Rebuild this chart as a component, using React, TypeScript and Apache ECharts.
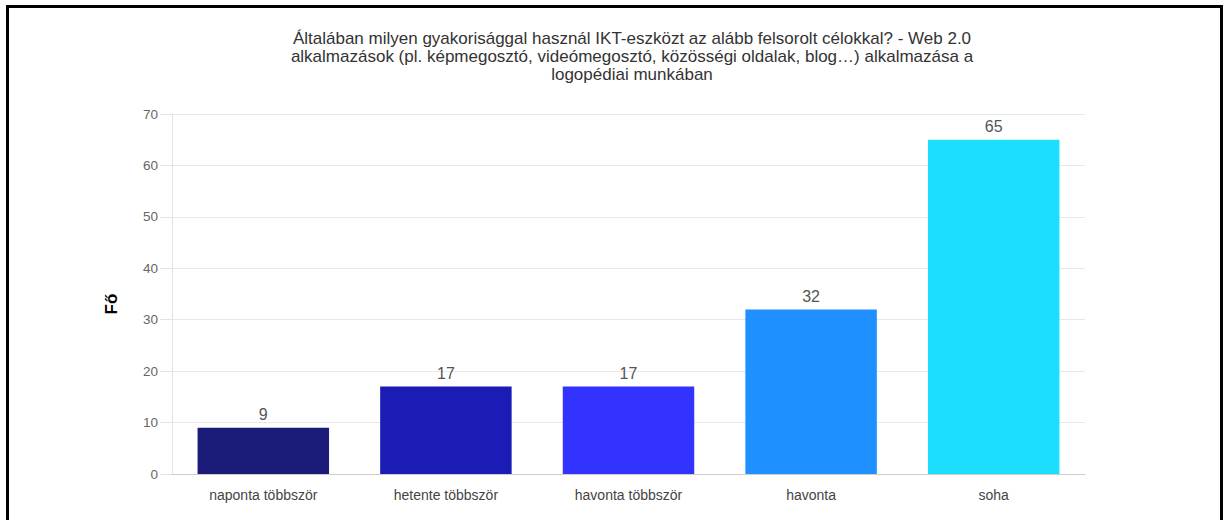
import React, { useEffect, useRef } from "react";
import * as echarts from "echarts";

const titleLines = [
  "Általában milyen gyakorisággal használ IKT-eszközt az alább felsorolt célokkal? - Web 2.0",
  "alkalmazások (pl. képmegosztó, videómegosztó, közösségi oldalak, blog…) alkalmazása a",
  "logopédiai munkában",
];
const categories = ["naponta többször", "hetente többször", "havonta többször", "havonta", "soha"];
const values = [9, 17, 17, 32, 65];
const barColors = ["#1b1b7a", "#1b1bb6", "#3333ff", "#1e90ff", "#1cdfff"];
const yAxisName = "Fő";
const yMax = 70;
const yInterval = 10;

const FONT = "'Liberation Sans', Arial, sans-serif";

export default function App() {
  const ref = useRef<HTMLDivElement>(null);
  useEffect(() => {
    if (!ref.current) return;
    const chart = echarts.init(ref.current, null, { renderer: "svg" });
    chart.setOption({
      animation: false,
      backgroundColor: "transparent",
      title: {
        text: titleLines.join("\n"),
        left: 627,
        textAlign: "center",
        top: 24,
        textStyle: {
          fontFamily: FONT,
          fontSize: 17,
          fontWeight: "normal",
          color: "#333",
          lineHeight: 18,
        },
      },
      grid: { left: 172, right: 141, top: 114, bottom: 46, containLabel: false },
      xAxis: {
        type: "category",
        data: categories,
        axisLine: { show: true, lineStyle: { color: "#cccccc", width: 1 } },
        axisTick: { show: false },
        axisLabel: {
          margin: 14,
          fontFamily: FONT,
          fontSize: 14,
          color: "#444",
        },
        splitLine: { show: false },
      },
      yAxis: {
        type: "value",
        min: 0,
        max: yMax,
        interval: yInterval,
        name: yAxisName,
        nameLocation: "middle",
        nameGap: 52,
        nameTextStyle: {
          fontFamily: FONT,
          fontSize: 17,
          fontWeight: "bold",
          color: "#000",
          padding: [0, 20, 0, 0],
        },
        axisLine: { show: true, lineStyle: { color: "#e2e2e2", width: 1 } },
        axisTick: { show: true, length: 12, lineStyle: { color: "#e2e2e2" } },
        axisLabel: {
          margin: 14,
          fontFamily: FONT,
          fontSize: 13.5,
          color: "#666",
        },
        splitLine: { show: true, lineStyle: { color: "#e8e8e8", width: 1 } },
      },
      series: [
        {
          type: "bar",
          data: values.map((v, i) => ({ value: v, itemStyle: { color: barColors[i] } })),
          barWidth: "72%",
          label: {
            show: true,
            position: "top",
            distance: 5,
            fontFamily: FONT,
            fontSize: 16,
            color: "#555",
          },
        },
      ],
    });
    return () => chart.dispose();
  }, []);
  return (
    <div style={{ position: "absolute", left: 0, top: 0, width: 1226, height: 520, overflow: "hidden", background: "#fff" }}>
      <div
        style={{
          position: "absolute",
          left: 6,
          top: 5,
          width: 1217,
          height: 600,
          border: "3px solid #000",
          boxSizing: "border-box",
        }}
      />
      <div ref={ref} style={{ position: "absolute", left: 0, top: 0, width: 1226, height: 520 }} />
    </div>
  );
}
